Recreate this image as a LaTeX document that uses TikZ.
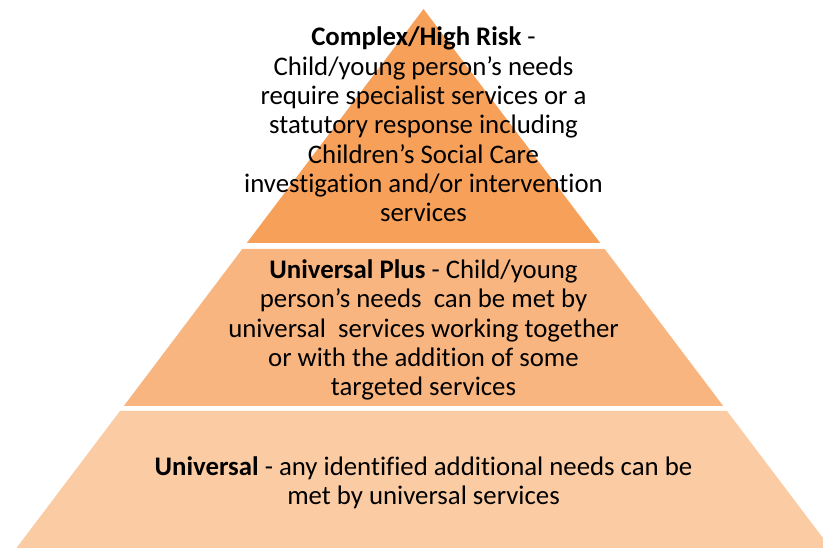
\documentclass[tikz,border=0pt]{standalone}
\usepackage{fontspec}
\setmainfont{Carlito}[Ligatures=NoCommon]

\definecolor{tiertop}{HTML}{F7A05A}
\definecolor{tiermid}{HTML}{F9B580}
\definecolor{tierbot}{HTML}{FBCBA3}

\tikzset{tierlabel/.style={align=center, inner sep=0pt, font=\fontsize{26.8}{29.3}\selectfont}}

\begin{document}
\begin{tikzpicture}[x=1pt,y=1pt]
        \clip (0,0) rectangle (823,548);

        % tiers of the pyramid
        \fill[tierbot] (16.5,0) -- (120,137) -- (727,137) -- (830.5,0) -- cycle;
        \fill[tiermid] (123.8,142) -- (242.3,299) -- (604.7,299) -- (723.2,142) -- cycle;
        \fill[tiertop] (246.8,305) -- (423.5,539) -- (600.2,305) -- cycle;

        \node[tierlabel] (high) at (423.5,423.5) {\textbf{Complex/High Risk} -\\Child/young person’s needs\\require specialist services or a\\statutory response including\\Children’s Social Care\\investigation and/or intervention\\services};
        \node[tierlabel] (plus) at (423.5,218) {\textbf{Universal Plus} - Child/young\\person’s needs\ \ can be met by\\universal\ \ services working together\\or with the addition of some\\targeted services};
        \node[tierlabel] (univ) at (423.5,65) {\textbf{Universal} - any identified additional needs can be\\met by universal services};
    \end{tikzpicture}
\end{document}
